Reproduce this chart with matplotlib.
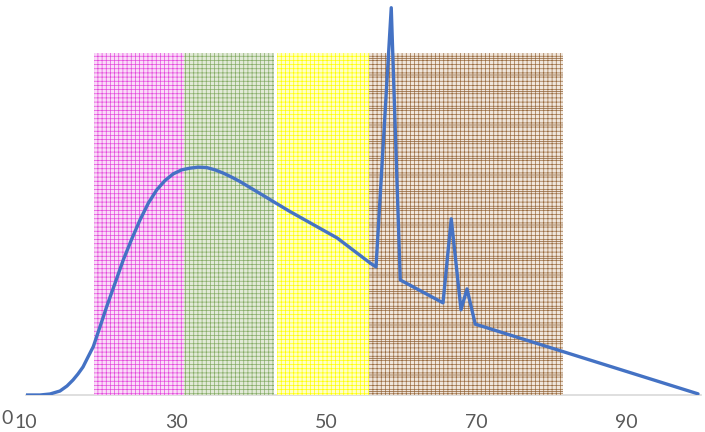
import matplotlib
matplotlib.use("Agg")
import matplotlib.pyplot as plt

# spectrum-like trace (x, relative intensity)
trace_x = [10, 11.87, 13.2, 14.53, 15.47, 16.27, 16.93, 17.6, 18.27, 18.97,
           19.87, 20.76, 21.87, 22.97, 24.09, 25.2, 26.31, 27.43, 28.53,
           29.64, 30.76, 31.87, 32.97, 34.09, 35.2, 36.31, 37.43, 38.53,
           39.64, 40.76, 41.87, 42.97, 44.09, 45.2, 51.47, 55.87, 56.67,
           58.7, 59.9, 65.6, 66.7, 68.0, 68.8, 69.9, 99.6]
trace_y = [0, 0, 0.26, 1.03, 2.33, 3.88, 5.43, 7.24, 9.82, 12.48,
           17.65, 22.82, 28.86, 34.88, 40.23, 45.2, 49.54, 52.97, 55.38,
           57.11, 58.14, 58.58, 58.84, 58.73, 58.14, 57.29, 56.25, 55.12,
           53.83, 52.54, 51.25, 49.95, 48.66, 47.37, 40.57, 34.1, 33.07,
           100, 29.7, 23.8, 45.5, 22.0, 27.4, 18.3, 0.3]

# shaded ranges behind the trace
band_start = [19.0, 31.0, 43.5, 55.7]
band_end = [31.0, 43.0, 55.7, 81.6]
band_top = 88.4
band_fill = ["#FADCF8", "#E2EAD8", "#FFFFC8", "#F0E6DC"]
band_line = ["#E44ADC", "#86AC66", "#FFFF00", "#9A6C40"]

xticks = [10, 30, 50, 70, 90]

plt.rcParams["hatch.linewidth"] = 0.5
plt.rcParams["font.family"] = ["Lato", "DejaVu Sans"]

fig = plt.figure(figsize=(7.05, 4.32), dpi=100)
ax = fig.add_axes([26 / 705, 37 / 432, 675 / 705, 395 / 432])

for x0, x1, fc, lc in zip(band_start, band_end, band_fill, band_line):
    ax.bar(x0, band_top, width=x1 - x0, align="edge", color=fc,
           edgecolor=lc, hatch="++++", linewidth=0, zorder=1)
# the brown range has heavier horizontal rules every few rows
ax.bar(band_start[3], band_top, width=band_end[3] - band_start[3], align="edge",
       color="none", edgecolor="#8A5A2C", hatch="-", linewidth=0, zorder=1)

ax.plot(trace_x, trace_y, color="#4472C4", lw=2.4, solid_joinstyle="round",
        solid_capstyle="round", zorder=3)

ax.set_xlim(10, 100)
ax.set_ylim(0, 102)
ax.set_xticks(xticks)
ax.tick_params(axis="x", length=0, pad=14, labelsize=14, labelcolor="#595959")
ax.set_yticks([])
for side in ("top", "right", "left"):
    ax.spines[side].set_visible(False)
ax.spines["bottom"].set_color("#D9D9D9")
ax.spines["bottom"].set_linewidth(1.2)
ax.spines["bottom"].set_zorder(0)

fig.text(7 / 705, 1 - 418 / 432, "0", ha="center", va="center",
         fontsize=14, color="#595959")

fig.savefig("out.png", dpi=100)
